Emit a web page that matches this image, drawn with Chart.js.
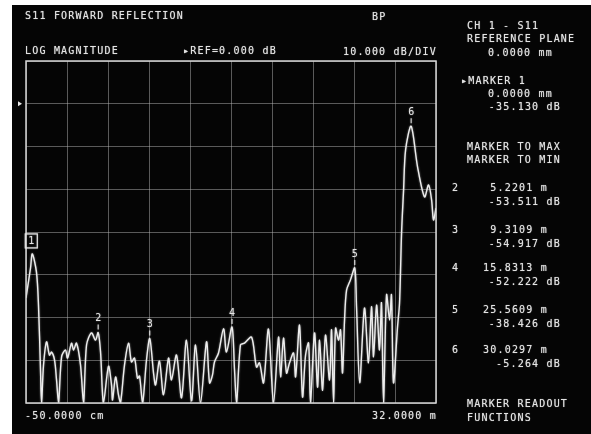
<!DOCTYPE html>
<html>
<head>
<meta charset="utf-8">
<title>S11 Forward Reflection</title>
<script src="https://cdn.jsdelivr.net/npm/chart.js@4.4.1/dist/chart.umd.min.js"></script>
<style>
  html, body { margin: 0; padding: 0; background: #ffffff; }
  #wrap { position: relative; width: 591px; height: 434px; overflow: hidden; }
  #screen { position: absolute; left: 12px; top: 5px; width: 579px; height: 429px; background: #050505; }
  #c { position: absolute; left: 0; top: 0; }
  .t {
    position: absolute;
    font: 10px "DejaVu Sans Mono", monospace;
    letter-spacing: 1.2px;
    line-height: 10px;
    color: #e4e4e4;
    white-space: pre;
    text-shadow: 0 0 1px rgba(255,255,255,0.6);
  }
</style>
</head>
<body>
<div id="wrap">
  <div id="screen"></div>
  <canvas id="c" width="591" height="434"></canvas>
</div>
<script>
// Time-domain S11 trace: distance (m) vs. log magnitude (dB)
const distance_m = [
  -0.50, -0.14,  0.33,  0.49,  0.65,  0.73,  0.89,  1.13,  1.36,  1.52,
   1.76,  1.92,  2.08,  2.32,  2.63,  2.79,  3.11,  3.27,  3.50,  3.82,
   4.06,  4.30,  4.69,  5.01,  5.41,  5.64,  6.04,  6.28,  6.36,  6.60,
   6.83,  6.99,  7.31,  7.63,  7.86,  8.10,  8.34,  8.50,  8.74,  9.05,
   9.61,  9.77, 10.08, 10.40, 10.80, 11.03, 11.43, 11.83, 12.22, 12.62,
  12.94, 13.33, 13.81, 14.05, 14.28, 14.44, 14.76, 15.16, 15.39, 16.03,
  16.19, 16.50, 16.82, 17.38, 17.77, 18.01, 18.33, 18.72, 19.12, 19.52,
  19.68, 19.91, 20.15, 20.39, 20.71, 20.87, 21.18, 21.42, 21.66, 21.90,
  22.05, 22.37, 22.61, 22.77, 23.01, 23.24, 23.56, 23.72, 23.88, 24.04,
  24.27, 24.43, 24.59, 24.75, 24.91, 25.22, 25.70, 25.95, 26.33, 26.65,
  26.89, 27.05, 27.29, 27.52, 27.68, 27.84, 28.08, 28.32, 28.47, 28.63,
  28.95, 29.11, 29.27, 29.43, 29.59, 30.54, 31.09, 31.41, 31.65, 31.80,
  32.00
];
const s11_db = [
  -45.4, -38.4, -39.4, -47.1, -62.3, -70.0, -61.1, -55.7, -58.8, -58.1,
  -59.9, -64.6, -70.0, -59.2, -57.6, -59.5, -56.0, -57.6, -56.0, -61.1,
  -70.0, -56.4, -53.6, -55.3, -58.1, -70.0, -61.4, -65.8, -69.3, -63.9,
  -68.1, -70.0, -61.1, -56.0, -60.4, -59.5, -64.2, -63.7, -70.0, -60.0,
  -63.0, -65.8, -60.2, -68.1, -59.5, -64.6, -58.8, -68.8, -55.3, -69.5,
  -56.4, -70.0, -55.7, -65.3, -63.5, -60.4, -58.3, -52.6, -58.1, -62.3,
  -70.0, -56.4, -56.0, -54.6, -61.6, -60.6, -65.3, -52.7, -70.0, -54.6,
  -63.9, -54.8, -63.0, -60.6, -58.3, -63.9, -51.8, -68.6, -58.8, -56.0,
  -70.0, -53.6, -66.3, -55.3, -67.0, -54.1, -64.6, -52.9, -70.0, -52.5,
  -55.3, -52.9, -63.0, -50.6, -43.6, -41.2, -47.5, -65.3, -47.8, -60.6,
  -47.5, -59.2, -47.1, -57.6, -46.6, -70.0, -44.7, -50.6, -44.7, -65.3,
  -52.2, -46.6, -30.2, -20.2, -10.8, -14.8, -21.8, -19.0, -22.5, -27.2,
  -24.4
];

// Marker readouts
const markerIds  = [1, 2, 3, 4, 5, 6];
const markerDist = [0.0, 5.2201, 9.3109, 15.8313, 25.5609, 30.0297];
const markerDb   = [-35.130, -53.511, -54.917, -52.222, -38.426, -5.264];

// Sweep span and display scale
const spanStart = -0.5, spanStop = 32.0;   // metres
const refLevel = 0, dbPerDiv = 10;
const startLabel = "-50.0000 cm", stopLabel = "32.0000 m";

// Merge marker points into the trace so each marker sits on the line
const trace = distance_m.map((d, i) => ({ x: d, y: s11_db[i] }))
  .concat(markerDist.map((d, i) => ({ x: d, y: markerDb[i] })))
  .sort((a, b) => a.x - b.x);

const FONT = '10px "DejaVu Sans Mono", monospace';

const screenDecor = {
  id: 'screenDecor',
  beforeDatasetsDraw(chart) {
    chart.ctx.save();
    chart.ctx.shadowColor = 'rgba(255,255,255,0.55)';
    chart.ctx.shadowBlur = 2;
  },
  afterDatasetsDraw(chart) {
    chart.ctx.restore();
  },
  afterDraw(chart) {
    const { ctx, chartArea: a, scales: { x, y } } = chart;
    ctx.save();
    // graticule frame
    ctx.strokeStyle = '#d6d6d6';
    ctx.lineWidth = 1.5;
    ctx.strokeRect(a.left, a.top, a.right - a.left, a.bottom - a.top);
    // reference-line pointer
    const ry = y.getPixelForValue(refLevel);
    ctx.fillStyle = '#e8e8e8';
    ctx.beginPath();
    ctx.moveTo(a.left - 8, ry - 2.5);
    ctx.lineTo(a.left - 4, ry);
    ctx.lineTo(a.left - 8, ry + 2.5);
    ctx.closePath();
    ctx.fill();
    // marker annotations
    ctx.font = FONT;
    ctx.fillStyle = '#e4e4e4';
    ctx.strokeStyle = '#e4e4e4';
    ctx.textAlign = 'center';
    ctx.textBaseline = 'middle';
    ctx.shadowColor = 'rgba(255,255,255,0.5)';
    ctx.shadowBlur = 1.5;
    markerIds.forEach((id, i) => {
      const px = x.getPixelForValue(markerDist[i]);
      const py = y.getPixelForValue(markerDb[i]);
      if (i === 0) {
        ctx.lineWidth = 1.2;
        ctx.strokeRect(px - 7, py - 20, 12, 14);
        ctx.fillText(String(id), px - 1, py - 12.5);
      } else {
        ctx.fillText(String(id), px, py - 14);
        ctx.lineWidth = 1;
        ctx.beginPath();
        ctx.moveTo(px, py - 8);
        ctx.lineTo(px, py - 3);
        ctx.stroke();
      }
    });
    ctx.restore();
  }
};

new Chart(document.getElementById('c'), {
  type: 'line',
  data: {
    datasets: [{
      data: trace,
      borderColor: '#ededed',
      borderWidth: 1.4,
      pointRadius: 0,
      tension: 0.3,
      fill: false
    }]
  },
  options: {
    responsive: false,
    animation: false,
    events: [],
    layout: { padding: { left: 26, top: 61, right: 155, bottom: 31 } },
    plugins: { legend: { display: false }, tooltip: { enabled: false } },
    scales: {
      x: {
        type: 'linear',
        min: spanStart,
        max: spanStop,
        afterBuildTicks(scale) {
          const step = (spanStop - spanStart) / 10;
          scale.ticks = Array.from({ length: 11 }, (_, i) => ({ value: spanStart + i * step }));
        },
        ticks: { display: false },
        border: { display: false },
        grid: { color: 'rgba(175,175,175,0.5)', lineWidth: 1, drawTicks: false }
      },
      y: {
        type: 'linear',
        min: refLevel - 7 * dbPerDiv,
        max: refLevel + dbPerDiv,
        ticks: { display: false, stepSize: dbPerDiv },
        border: { display: false },
        grid: { color: 'rgba(175,175,175,0.5)', lineWidth: 1, drawTicks: false }
      }
    }
  },
  plugins: [screenDecor]
});

// Screen annotations (header, readout panel, span labels)
const wrap = document.getElementById('wrap');
function label(text, x, cy, align) {
  const d = document.createElement('div');
  d.className = 't';
  d.textContent = text;
  d.style.top = (cy - 5) + 'px';
  if (align === 'right') d.style.right = (591 - x) + 'px';
  else d.style.left = x + 'px';
  wrap.appendChild(d);
}
label('S11 FORWARD REFLECTION', 25, 16);
label('BP', 372, 17);
label('LOG MAGNITUDE', 25, 51);
label('\u25B8REF=0.000 dB', 183, 51);
label('10.000 dB/DIV', 343, 52);
label('CH 1 - S11', 467, 26);
label('REFERENCE PLANE', 467, 39);
label('0.0000 mm', 488, 53);
label('\u25B8MARKER 1', 461, 81);

function distText(d) { return d === 0 ? '0.0000 mm' : d.toFixed(4) + ' m'; }
function dbText(v) { return v.toFixed(3) + ' dB'; }

label(distText(markerDist[0]), 553, 94, 'right');
label(dbText(markerDb[0]), 561, 107, 'right');
label('MARKER TO MAX', 467, 147);
label('MARKER TO MIN', 467, 160);
const rowY = [188, 230, 268, 310, 350];
for (let i = 1; i < markerIds.length; i++) {
  const cy = rowY[i - 1];
  label(String(markerIds[i]), 452, cy);
  label(distText(markerDist[i]), 548, cy, 'right');
  label(dbText(markerDb[i]), 561, cy + 14, 'right');
}
label('MARKER READOUT', 467, 404);
label('FUNCTIONS', 467, 418);
label(startLabel, 25, 416);
label(stopLabel, 437, 416, 'right');
</script>
</body>
</html>
